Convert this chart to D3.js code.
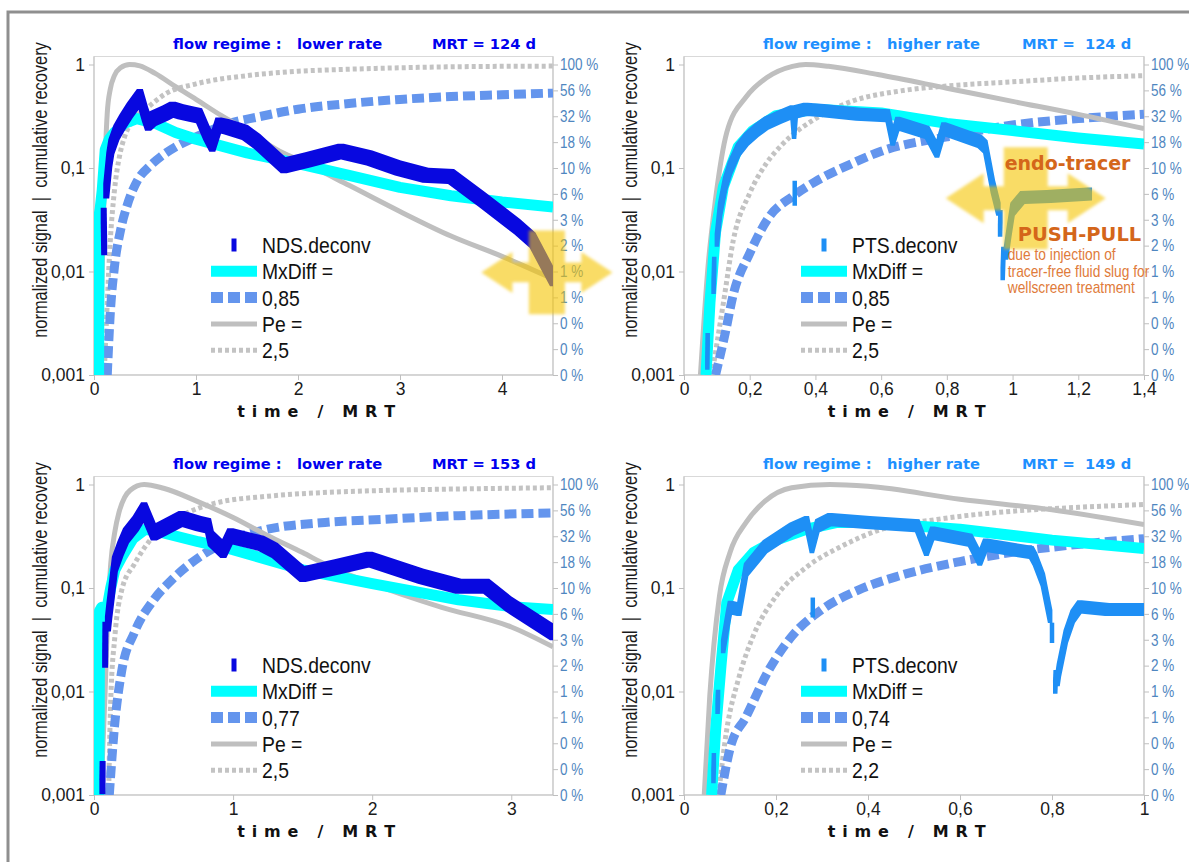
<!DOCTYPE html>
<html>
<head>
<meta charset="utf-8">
<script src="https://cdn.jsdelivr.net/npm/d3@7"></script>
<style>
  body { margin: 0; background: #fff; }
  svg { display: block; }
  text { white-space: pre; }
</style>
</head>
<body>
<svg id="chart" width="1189" height="862"></svg>
<script>
// ---------- shared axis ticks ----------
const leftTickValues = [1, 0.1, 0.01, 0.001];
const leftTickLabels = ["1", "0,1", "0,01", "0,001"];
const rightTickValues = [1, 0.5623, 0.3162, 0.1778, 0.1, 0.05623, 0.03162, 0.01778, 0.01, 0.005623, 0.003162, 0.001778, 0.001];
const rightTickLabels = ["100 %", "56 %", "32 %", "18 %", "10 %", "6 %", "3 %", "2 %", "1 %", "1 %", "0 %", "0 %", "0 %"];

// ---------- panel 1 : lower rate, MRT 124 d ----------
const p1Title = ["flow regime :   lower rate", "MRT = 124 d"];
const p1Legend = ["NDS.deconv", "MxDiff =", "0,85", "Pe =", "2,5"];
const p1XMax = 4.5;
const p1XTicks = [0, 1, 2, 3, 4];
const p1Pe = [[0.06,0.001],[0.08,0.01],[0.1,0.06],[0.13,0.34],[0.16,0.58],[0.2,0.78],[0.26,0.93],[0.35,1.0],[0.45,0.97],[0.6,0.82],[0.8,0.61],[1.0,0.46],[1.25,0.32],[1.5,0.23],[1.82,0.145],[2.0,0.12],[2.5,0.068],[3.0,0.038],[3.5,0.022],[4.0,0.014],[4.5,0.0085]];
const p1PeCum = [[0.1,0.001],[0.13,0.005],[0.16,0.02],[0.2,0.06],[0.25,0.13],[0.3,0.2],[0.4,0.3],[0.52,0.38],[0.7,0.52],[1.0,0.65],[1.5,0.78],[2.0,0.86],[2.5,0.9],[3.0,0.93],[3.5,0.95],[4.0,0.96],[4.5,0.965]];
const p1Mx = [[0.045,0.001],[0.05,0.035],[0.06,0.04],[0.08,0.06],[0.11,0.15],[0.15,0.19],[0.2,0.22],[0.3,0.27],[0.42,0.3],[0.6,0.27],[0.8,0.22],[1.0,0.19],[1.5,0.14],[2.0,0.11],[2.5,0.085],[3.0,0.065],[3.5,0.054],[4.0,0.047],[4.5,0.042]];
const p1MxCum = [[0.13,0.001],[0.16,0.004],[0.2,0.011],[0.26,0.025],[0.32,0.042],[0.43,0.077],[0.55,0.105],[0.66,0.13],[0.8,0.16],[1.0,0.2],[1.33,0.27],[1.6,0.31],[2.0,0.37],[2.5,0.42],[3.0,0.46],[3.5,0.49],[4.0,0.51],[4.5,0.53]];
const p1Deconv = [
  [[0.095,0.035],[0.1,0.017]],
  [[0.12,0.06],[0.15,0.12],[0.17,0.16],[0.22,0.22],[0.28,0.28],[0.35,0.36],[0.45,0.49],[0.5,0.33],[0.53,0.27],[0.58,0.3],[0.7,0.34],[0.77,0.37],[0.85,0.35],[0.96,0.33],[1.03,0.32],[1.1,0.22],[1.16,0.17],[1.22,0.26],[1.3,0.25],[1.48,0.22],[1.6,0.18],[1.86,0.105],[2.1,0.12],[2.42,0.145],[2.7,0.125],[2.98,0.1],[3.25,0.085],[3.5,0.083],[3.8,0.05],[4.15,0.027],[4.3,0.02],[4.5,0.0085]]
];
const p1Arrow = [4.44, 0.0098];

// ---------- panel 2 : higher rate, MRT 124 d ----------
const p2Title = ["flow regime :   higher rate", "MRT =  124 d"];
const p2Legend = ["PTS.deconv", "MxDiff =", "0,85", "Pe =", "2,5"];
const p2XMax = 1.4;
const p2XTicks = [0, 0.2, 0.4, 0.6, 0.8, 1, 1.2, 1.4];
const p2Pe = [[0.05,0.001],[0.073,0.011],[0.096,0.05],[0.13,0.22],[0.19,0.49],[0.25,0.74],[0.33,0.96],[0.37,1.0],[0.44,0.96],[0.59,0.8],[0.8,0.59],[1.0,0.44],[1.2,0.33],[1.4,0.24]];
const p2PeCum = [[0.085,0.001],[0.12,0.005],[0.15,0.02],[0.2,0.057],[0.25,0.11],[0.3,0.17],[0.4,0.3],[0.51,0.44],[0.65,0.55],[0.8,0.62],[1.0,0.68],[1.2,0.74],[1.4,0.78]];
const p2Mx = [[0.067,0.001],[0.079,0.005],[0.096,0.024],[0.12,0.066],[0.165,0.16],[0.21,0.23],[0.28,0.32],[0.4,0.37],[0.6,0.34],[0.8,0.27],[1.0,0.23],[1.2,0.195],[1.4,0.17]];
const p2MxCum = [[0.096,0.001],[0.125,0.0025],[0.15,0.006],[0.2,0.015],[0.26,0.034],[0.33,0.053],[0.4,0.074],[0.51,0.11],[0.6,0.145],[0.8,0.2],[1.0,0.26],[1.2,0.3],[1.4,0.33]];
const p2Deconv = [
  [[0.071,0.0013],[0.072,0.0022]],
  [[0.09,0.007],[0.092,0.012]],
  [[0.1,0.02],[0.11,0.04],[0.125,0.07],[0.14,0.1],[0.165,0.15],[0.19,0.19],[0.22,0.23],[0.25,0.27],[0.29,0.31],[0.33,0.35],[0.335,0.22],[0.34,0.35],[0.37,0.37],[0.42,0.36],[0.53,0.33],[0.62,0.32],[0.635,0.19],[0.65,0.27],[0.74,0.22],[0.77,0.145],[0.79,0.24],[0.9,0.18],[0.917,0.16],[0.94,0.066],[0.957,0.04]],
  [[0.337,0.05],[0.337,0.065]],
  [[0.962,0.025],[0.963,0.034]],
  [[0.97,0.0095],[0.972,0.015]],
  [[0.98,0.015],[0.99,0.025],[1.0,0.04],[1.03,0.052],[1.11,0.053],[1.235,0.056]]
];
const p2Arrow = [1.04, 0.051];
const p2Notes = ["endo-tracer", "PUSH-PULL", "due to injection of", "tracer-free fluid slug for", "wellscreen treatment"];

// ---------- panel 3 : lower rate, MRT 153 d ----------
const p3Title = ["flow regime :   lower rate", "MRT = 153 d"];
const p3Legend = ["NDS.deconv", "MxDiff =", "0,77", "Pe =", "2,5"];
const p3XMax = 3.3;
const p3XTicks = [0, 1, 2, 3];
const p3Pe = [[0.05,0.001],[0.08,0.01],[0.1,0.06],[0.12,0.17],[0.15,0.35],[0.18,0.54],[0.22,0.75],[0.26,0.88],[0.36,1.0],[0.5,0.92],[0.75,0.68],[1.0,0.48],[1.25,0.32],[1.5,0.22],[1.66,0.17],[2.0,0.11],[2.5,0.065],[3.0,0.042],[3.3,0.027]];
const p3PeCum = [[0.105,0.001],[0.12,0.008],[0.15,0.034],[0.2,0.096],[0.29,0.17],[0.43,0.32],[0.62,0.49],[0.87,0.66],[1.25,0.77],[1.6,0.83],[2.0,0.87],[2.5,0.9],[3.0,0.92],[3.3,0.93]];
const p3Mx = [[0.035,0.001],[0.04,0.06],[0.055,0.065],[0.07,0.04],[0.09,0.06],[0.12,0.1],[0.15,0.15],[0.2,0.2],[0.28,0.3],[0.37,0.37],[0.5,0.34],[0.75,0.28],[1.0,0.235],[1.5,0.15],[2.0,0.11],[2.62,0.077],[3.0,0.066],[3.3,0.062]];
const p3MxCum = [[0.11,0.001],[0.15,0.005],[0.2,0.016],[0.29,0.037],[0.43,0.077],[0.56,0.12],[0.76,0.2],[0.98,0.29],[1.25,0.37],[1.66,0.43],[2.07,0.46],[2.62,0.5],[3.3,0.53]];
const p3Deconv = [
  [[0.06,0.0012],[0.062,0.0018]],
  [[0.08,0.02],[0.082,0.04]],
  [[0.1,0.045],[0.11,0.06],[0.13,0.1],[0.15,0.17],[0.19,0.24],[0.23,0.32],[0.3,0.42],[0.36,0.57],[0.43,0.34],[0.5,0.38],[0.63,0.47],[0.75,0.42],[0.82,0.4],[0.84,0.3],[0.93,0.23],[0.98,0.32],[1.2,0.27],[1.3,0.23],[1.5,0.135],[1.75,0.16],[1.98,0.19],[2.35,0.13],[2.62,0.104],[2.82,0.104],[2.98,0.07],[3.3,0.037]]
];

// ---------- panel 4 : higher rate, MRT 149 d ----------
const p4Title = ["flow regime :   higher rate", "MRT =  149 d"];
const p4Legend = ["PTS.deconv", "MxDiff =", "0,74", "Pe =", "2,2"];
const p4XMax = 1;
const p4XTicks = [0, 0.2, 0.4, 0.6, 0.8, 1];
const p4Pe = [[0.044,0.001],[0.056,0.009],[0.077,0.083],[0.1,0.22],[0.135,0.43],[0.176,0.69],[0.234,0.93],[0.317,1.0],[0.4,0.96],[0.6,0.72],[0.8,0.57],[1.0,0.41]];
const p4PeCum = [[0.075,0.001],[0.093,0.0043],[0.118,0.013],[0.15,0.034],[0.2,0.083],[0.267,0.16],[0.34,0.25],[0.43,0.37],[0.55,0.46],[0.71,0.55],[0.85,0.6],[1.0,0.64]];
const p4Mx = [[0.06,0.001],[0.069,0.0044],[0.081,0.019],[0.093,0.072],[0.118,0.15],[0.151,0.22],[0.2,0.29],[0.267,0.37],[0.333,0.43],[0.4,0.43],[0.6,0.37],[0.8,0.29],[1.0,0.24]];
const p4MxCum = [[0.08,0.001],[0.1,0.0028],[0.135,0.0057],[0.184,0.016],[0.234,0.034],[0.3,0.062],[0.38,0.096],[0.465,0.13],[0.6,0.18],[0.71,0.22],[0.88,0.27],[1.0,0.3]];
const p4Deconv = [
  [[0.064,0.0015],[0.065,0.0022]],
  [[0.073,0.007],[0.074,0.009]],
  [[0.085,0.027],[0.095,0.05],[0.1,0.065],[0.12,0.062],[0.135,0.15],[0.176,0.25],[0.234,0.37],[0.267,0.43],[0.278,0.25],[0.29,0.4],[0.317,0.46],[0.4,0.43],[0.507,0.4],[0.527,0.235],[0.54,0.34],[0.622,0.29],[0.643,0.19],[0.655,0.26],[0.755,0.22],[0.763,0.19],[0.78,0.12],[0.796,0.053]],
  [[0.28,0.06],[0.28,0.07]],
  [[0.8,0.034],[0.8,0.04]],
  [[0.807,0.011],[0.808,0.014]],
  [[0.812,0.013],[0.815,0.016],[0.83,0.034],[0.845,0.053],[0.86,0.066],[0.92,0.062],[1.0,0.062]]
];

// ---------- styles ----------
const SANS = "'Liberation Sans', Arial, sans-serif";
const WIDE = "'DejaVu Sans', Verdana, sans-serif";
const NARROW_K = 0.82;   // horizontal squeeze giving a condensed face
const C = {
  cyan: "#00ffff", dash: "#6495ed", pe: "#bfbfbf", peCum: "#c3c3c3",
  nds: "#0808e0", pts: "#1e8ff5", axis: "#bfbfbf", frame: "#d9d9d9",
  right: "#4f86c0", note: "#d4661a", note2: "#e07b3a", yellow: "#f5c400"
};

const panels = [
  { left: 94,  right: 553,  bottom: 375, title: p1Title, titleColor: "#0000ee", legend: p1Legend, xMax: p1XMax, xTicks: p1XTicks,
    pe: p1Pe, peCum: p1PeCum, mx: p1Mx, mxCum: p1MxCum, deconv: p1Deconv, deconvColor: C.nds, band: [6, 15], arrow: p1Arrow, arrowScale: 0.82 },
  { left: 684, right: 1144, bottom: 375, title: p2Title, titleColor: "#1e90ff", legend: p2Legend, xMax: p2XMax, xTicks: p2XTicks,
    pe: p2Pe, peCum: p2PeCum, mx: p2Mx, mxCum: p2MxCum, deconv: p2Deconv, deconvColor: C.pts, band: [4.5, 13], arrow: p2Arrow, arrowScale: 1, notes: p2Notes },
  { left: 94,  right: 553,  bottom: 795, title: p3Title, titleColor: "#0000ee", legend: p3Legend, xMax: p3XMax, xTicks: p3XTicks,
    pe: p3Pe, peCum: p3PeCum, mx: p3Mx, mxCum: p3MxCum, deconv: p3Deconv, deconvColor: C.nds, band: [6, 15] },
  { left: 684, right: 1144, bottom: 795, title: p4Title, titleColor: "#1e90ff", legend: p4Legend, xMax: p4XMax, xTicks: p4XTicks,
    pe: p4Pe, peCum: p4PeCum, mx: p4Mx, mxCum: p4MxCum, deconv: p4Deconv, deconvColor: C.pts, band: [4.5, 13] }
];

const svg = d3.select("#chart");
svg.append("rect").attr("width", 1189).attr("height", 862).attr("fill", "#fff");

// outer frame (top and left edges)
svg.append("path").attr("d", "M8,862V12H1189").attr("fill", "none")
  .attr("stroke", "#8f8f8f").attr("stroke-width", 3);

const defs = svg.append("defs");
defs.append("filter").attr("id", "soft").attr("x", "-20%").attr("y", "-20%").attr("width", "140%").attr("height", "140%")
  .append("feGaussianBlur").attr("stdDeviation", 1.4);

const commaFmt = v => String(v).replace(".", ",");

// condensed text: squeeze horizontally around the given anchor point
function narrowText(parent, xPos, yPos, str, size, fill, extra, k) {
  return parent.append("text")
    .attr("transform", `translate(${xPos},${yPos}) ${extra || ""} scale(${k || NARROW_K},1)`)
    .attr("font-family", SANS).attr("font-size", size).attr("fill", fill).text(str);
}

// markers drawn as a vertical bar swept along the polyline
function markerBand(pts, w, h) {
  let d = "";
  if (pts.length === 1) pts = [pts[0], pts[0]];
  for (let i = 0; i < pts.length - 1; i++) {
    const corners = [];
    for (const [x, y] of [pts[i], pts[i + 1]]) {
      corners.push([x - w / 2, y - h / 2], [x + w / 2, y - h / 2], [x + w / 2, y + h / 2], [x - w / 2, y + h / 2]);
    }
    const hull = d3.polygonHull(corners);
    d += "M" + hull.map(p => p[0].toFixed(2) + "," + p[1].toFixed(2)).join("L") + "Z";
  }
  return d;
}

// four-way arrow outline (horizontal double arrow crossed by a vertical bar)
function arrowPath(s) {
  const W = 80 * s, H = 38 * s, HH = 25 * s, SH = 12 * s, BW = 22 * s, BH = 51 * s;
  const p = [[-W,0],[-W+H,-HH],[-W+H,-SH],[-BW,-SH],[-BW,-BH],[BW,-BH],[BW,-SH],[W-H,-SH],[W-H,-HH],[W,0],
             [W-H,HH],[W-H,SH],[BW,SH],[BW,BH],[-BW,BH],[-BW,SH],[-W+H,SH],[-W+H,HH]];
  return "M" + p.join("L") + "Z";
}

panels.forEach((P, i) => {
  const yTop = P.bottom - 310.5;
  const frameTop = yTop - 8;
  const x = d3.scaleLinear().domain([0, P.xMax]).range([P.left, P.right]);
  const y = d3.scaleLog().domain([0.001, 1]).range([P.bottom, yTop]);
  const g = svg.append("g");

  // plot frame
  g.append("rect").attr("x", P.left).attr("y", frameTop).attr("width", P.right - P.left).attr("height", P.bottom - frameTop)
    .attr("fill", "none").attr("stroke", C.frame).attr("stroke-width", 1);

  // left axis
  const la = g.append("g").attr("transform", `translate(${P.left},0)`)
    .call(d3.axisLeft(y).tickValues(leftTickValues).tickFormat((d, k) => leftTickLabels[k]).tickSize(5).tickPadding(4));
  la.select(".domain").attr("stroke", C.axis).attr("d", `M0,${frameTop}V${P.bottom}`);
  la.selectAll(".tick line").attr("stroke", C.axis);
  la.selectAll(".tick text").attr("font-family", SANS).attr("font-size", 17.5).attr("fill", "#1a1a1a");

  // right axis (cumulative recovery, same log scale)
  const ra = g.append("g").attr("transform", `translate(${P.right},0)`)
    .call(d3.axisRight(y).tickValues(rightTickValues).tickFormat((d, k) => rightTickLabels[k]).tickSize(5).tickPadding(2));
  ra.select(".domain").attr("stroke", C.axis).attr("d", `M0,${frameTop}V${P.bottom}`);
  ra.selectAll(".tick line").attr("stroke", C.axis);
  ra.selectAll(".tick text").attr("font-family", SANS).attr("font-size", 16.5).attr("fill", C.right)
    .attr("x", 7 / NARROW_K).attr("transform", `scale(${NARROW_K},1)`);

  // bottom axis
  const ba = g.append("g").attr("transform", `translate(0,${P.bottom})`)
    .call(d3.axisBottom(x).tickValues(P.xTicks).tickFormat(commaFmt).tickSize(5).tickPadding(3));
  ba.select(".domain").attr("stroke", C.axis).attr("d", `M${P.left},0H${P.right}`);
  ba.selectAll(".tick line").attr("stroke", C.axis);
  ba.selectAll(".tick text").attr("font-family", SANS).attr("font-size", 17.5).attr("fill", "#1a1a1a");

  // axis titles
  g.append("text").attr("x", (P.left + P.right) / 2 - 7).attr("y", P.bottom + 42).attr("text-anchor", "middle")
    .attr("font-family", WIDE).attr("font-weight", "bold").attr("font-size", 16).attr("letter-spacing", 0.6).attr("fill", "#111")
    .text("t i m e   /   M R T");
  narrowText(g, P.left - 47, P.bottom - 185, "normalized signal  |  cumulative recovery", 20, "#1a1a1a", "rotate(-90)")
    .attr("text-anchor", "middle");

  // panel title
  g.append("text").attr("x", P.left + 79).attr("y", frameTop - 8).attr("font-family", WIDE).attr("font-weight", "bold")
    .attr("font-size", 14.7).attr("fill", P.titleColor).text(P.title[0]);
  g.append("text").attr("x", P.left + 338).attr("y", frameTop - 8).attr("font-family", WIDE).attr("font-weight", "bold")
    .attr("font-size", 14.7).attr("fill", P.titleColor).text(P.title[1]);

  // clip to plot area
  const clipId = "clip" + i;
  defs.append("clipPath").attr("id", clipId).append("rect")
    .attr("x", P.left).attr("y", frameTop).attr("width", P.right - P.left).attr("height", P.bottom - frameTop);
  const plot = g.append("g").attr("clip-path", `url(#${clipId})`);
  const line = d3.line().x(d => x(d[0])).y(d => y(d[1])).curve(d3.curveMonotoneX);
  const lineLin = d3.line().x(d => x(d[0])).y(d => y(d[1]));

  plot.append("path").datum(P.peCum).attr("d", line).attr("fill", "none")
    .attr("stroke", C.peCum).attr("stroke-width", 5).attr("stroke-dasharray", "4,3");
  plot.append("path").datum(P.mxCum).attr("d", line).attr("fill", "none")
    .attr("stroke", C.dash).attr("stroke-width", 9).attr("stroke-dasharray", "12,5");
  plot.append("path").datum(P.pe).attr("d", line).attr("fill", "none")
    .attr("stroke", C.pe).attr("stroke-width", 5).attr("stroke-linejoin", "round");
  plot.append("path").datum(P.mx).attr("d", lineLin).attr("fill", "none")
    .attr("stroke", C.cyan).attr("stroke-width", 11).attr("stroke-linejoin", "round");
  plot.selectAll("path.deconv").data(P.deconv).join("path").attr("class", "deconv")
    .attr("d", seg => markerBand(seg.map(d => [x(d[0]), y(d[1])]), P.band[0], P.band[1]))
    .attr("fill", P.deconvColor);

  // legend
  const lg = g.append("g");
  const lx0 = P.left + 117, lx1 = P.left + 163, ltx = P.left + 168;
  P.legend.forEach((label, k) => {
    const ly = P.bottom - 130 + k * 26.3;
    if (k === 0) {
      lg.append("rect").attr("x", (lx0 + lx1) / 2 - 2.5).attr("y", ly - 6.5).attr("width", 5).attr("height", 13).attr("fill", P.deconvColor);
    } else {
      const st = [null,
        { c: C.cyan, w: 11, da: null },
        { c: C.dash, w: 11, da: "12,5" },
        { c: C.pe, w: 5, da: null },
        { c: C.peCum, w: 5, da: "4,3" }][k];
      lg.append("line").attr("x1", lx0).attr("x2", lx1).attr("y1", ly).attr("y2", ly)
        .attr("stroke", st.c).attr("stroke-width", st.w).attr("stroke-dasharray", st.da);
    }
    narrowText(lg, ltx, ly, label, 22, "#111", "", 0.88).attr("dy", "0.36em");
  });

  // highlighted region marker
  if (P.arrow) {
    g.append("path").attr("d", arrowPath(P.arrowScale))
      .attr("transform", `translate(${x(P.arrow[0])},${y(P.arrow[1])})`)
      .attr("fill", C.yellow).attr("fill-opacity", 0.6).attr("filter", "url(#soft)");
  }

  // annotation text
  if (P.notes) {
    const ax = x(P.arrow[0]), ay = y(P.arrow[1]);
    g.append("text").attr("x", ax - 21).attr("y", ay - 28).attr("font-family", WIDE).attr("font-weight", "bold")
      .attr("font-size", 19).attr("fill", C.note).text(P.notes[0]);
    g.append("text").attr("x", ax - 8).attr("y", ay + 43).attr("font-family", WIDE).attr("font-weight", "bold")
      .attr("font-size", 19.5).attr("fill", C.note).text(P.notes[1]);
    P.notes.slice(2).forEach((t, k) => {
      narrowText(g, ax - 18, ay + 62 + k * 16.5, t, 16.8, C.note2);
    });
  }
});
</script>
</body>
</html>
